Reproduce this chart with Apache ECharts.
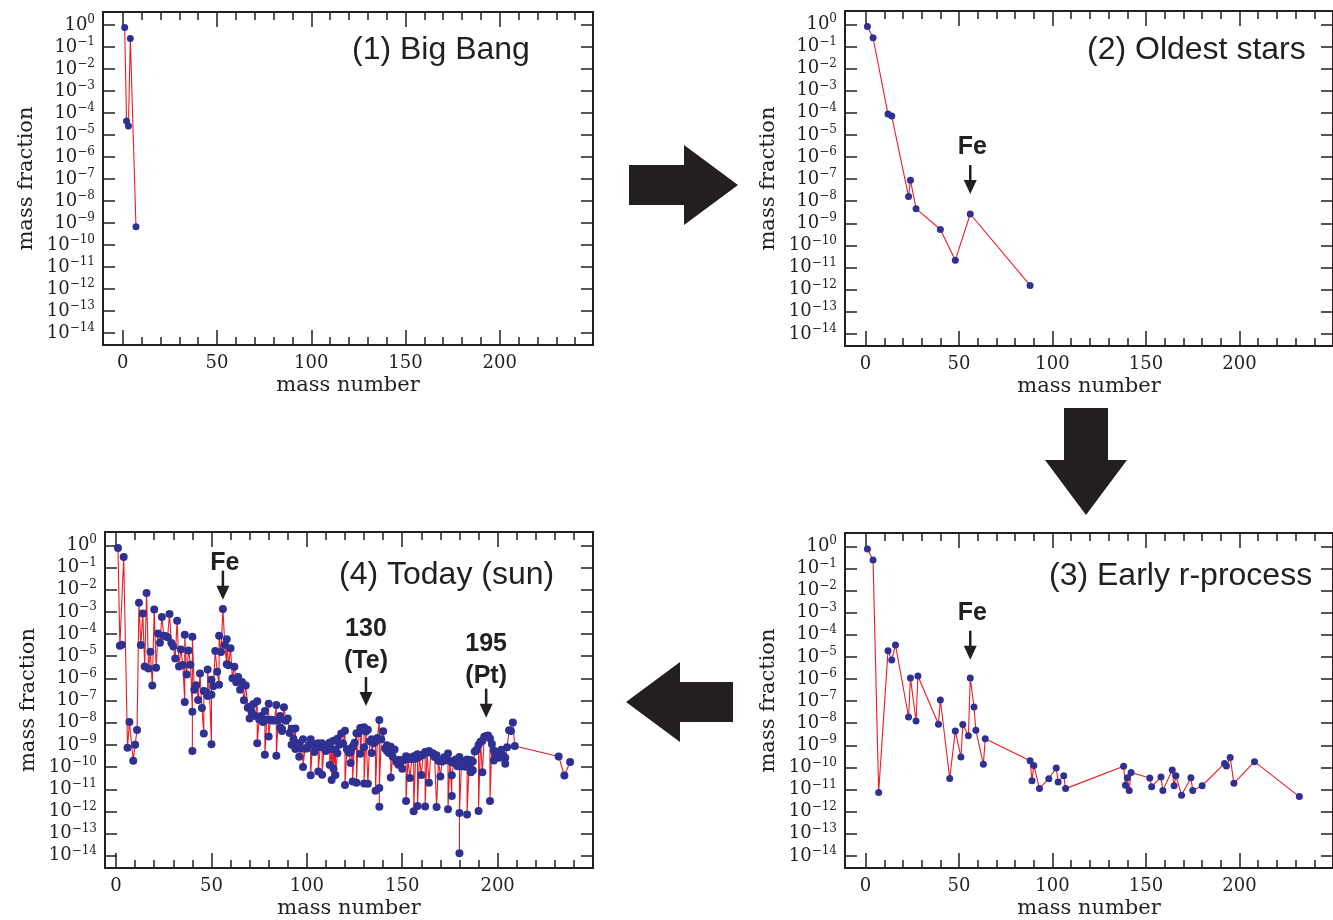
<!DOCTYPE html>
<html>
<head>
<meta charset="utf-8">
<script src="https://cdn.jsdelivr.net/npm/echarts@6/dist/echarts.min.js"></script>
<style>
  html, body { margin: 0; background: #fff; }
  #chart { width: 1333px; height: 920px; }
</style>
</head>
<body>
<div id="chart"></div>
<script>
// [mass number, log10(mass fraction)]
const bigBang = [[1, -0.11], [2, -4.36], [3, -4.59], [4, -0.61], [7, -9.17]];

const oldestStars = [
  [1, -0.10], [4, -0.61], [12, -4.06], [14, -4.15], [23, -7.79], [24, -7.05],
  [27, -8.34], [40, -9.28], [48, -10.67], [56, -8.58], [88, -11.81]
];

const earlyRProcess = [
  [1, -0.12], [4, -0.62], [7, -11.13], [12, -4.73], [14, -5.14], [16, -4.46],
  [23, -7.72], [24, -5.96], [27, -7.90], [28, -5.87], [39, -8.05], [40, -6.95],
  [45, -10.50], [48, -8.35], [51, -9.53], [52, -8.06], [55, -8.57], [56, -5.96],
  [58, -7.27], [59, -8.32], [63, -9.86], [64, -8.71], [88, -9.70], [89, -10.60],
  [90, -9.92], [93, -10.95], [98, -10.51], [102, -10.03], [103, -10.66], [106, -10.38],
  [107, -10.96], [138, -9.95], [139, -10.81], [140, -10.47], [141, -11.05], [142, -10.23],
  [152, -10.48], [153, -10.87], [158, -10.44], [159, -11.05], [164, -10.12], [165, -10.83],
  [166, -10.38], [169, -11.26], [174, -10.47], [175, -11.04], [180, -10.83], [192, -9.82],
  [193, -9.94], [195, -9.55], [197, -10.72], [208, -9.74], [232, -11.32]
];

const todaySun = [
  [1, -0.12], [2, -4.53], [3, -4.48], [4, -0.53], [6, -9.13], [7, -7.97], [9, -9.71],
  [10, -8.99], [11, -8.33], [12, -2.59], [13, -4.50], [14, -3.07], [15, -5.47],
  [16, -2.15], [17, -5.56], [18, -4.80], [19, -6.32], [20, -2.90], [21, -5.52],
  [22, -3.98], [23, -4.39], [24, -3.23], [25, -4.08], [26, -4.10], [27, -4.15],
  [28, -3.10], [29, -4.40], [30, -4.56], [31, -5.10], [32, -3.40], [33, -5.46],
  [34, -4.70], [35, -5.40], [36, -7.07], [36, -4.03], [37, -5.83], [38, -4.74],
  [39, -5.38], [40, -7.51], [40, -9.28], [40, -4.12], [41, -6.51], [42, -6.31],
  [43, -6.98], [44, -5.78], [45, -7.34], [46, -8.48], [46, -6.57], [47, -6.60],
  [48, -6.79], [48, -5.60], [49, -6.73], [50, -6.74], [50, -8.97], [50, -6.06],
  [51, -6.36], [52, -4.76], [53, -5.70], [54, -6.29], [54, -4.08], [55, -4.81],
  [56, -2.87], [57, -4.49], [58, -5.36], [58, -4.24], [59, -5.41], [60, -4.64],
  [61, -5.99], [62, -5.48], [63, -6.17], [64, -6.06], [64, -5.94], [65, -6.51],
  [66, -6.16], [67, -6.99], [68, -6.32], [69, -7.33], [70, -7.81], [70, -7.28],
  [71, -7.50], [72, -7.15], [73, -7.70], [74, -7.03], [74, -8.92], [75, -7.84],
  [76, -7.70], [76, -7.88], [77, -7.97], [78, -7.47], [78, -9.44], [79, -7.86],
  [80, -7.14], [80, -8.62], [81, -7.86], [82, -7.88], [82, -7.90], [83, -7.90],
  [84, -7.20], [84, -9.49], [85, -7.90], [86, -7.70], [86, -8.23], [87, -8.28],
  [87, -8.37], [88, -7.30], [89, -7.91], [90, -7.81], [91, -8.46], [92, -8.27],
  [92, -8.99], [93, -8.72], [94, -8.26], [94, -9.18], [95, -8.94], [96, -9.04],
  [96, -8.92], [96, -9.53], [97, -9.16], [98, -8.75], [98, -10.00], [99, -9.16],
  [100, -9.14], [100, -9.16], [101, -9.02], [102, -8.75], [102, -10.37], [103, -8.98],
  [104, -8.97], [104, -9.32], [105, -9.02], [106, -8.92], [106, -10.20], [107, -9.10],
  [108, -8.93], [108, -10.34], [109, -9.12], [110, -9.28], [110, -9.19], [111, -9.17],
  [112, -8.89], [112, -9.91], [113, -9.18], [113, -10.58], [114, -8.81], [114, -10.07],
  [115, -9.22], [115, -10.36], [116, -9.38], [116, -8.72], [117, -8.99], [118, -8.49],
  [119, -8.94], [120, -8.36], [120, -10.81], [121, -9.20], [122, -9.20], [122, -9.35],
  [123, -9.32], [123, -9.81], [124, -9.09], [124, -9.08], [124, -10.65], [125, -8.90],
  [126, -8.47], [126, -10.71], [127, -8.47], [128, -8.24], [128, -9.40], [129, -8.31],
  [130, -8.20], [130, -9.10], [130, -10.74], [131, -8.40], [132, -8.32], [132, -10.75],
  [133, -8.84], [134, -8.74], [134, -9.37], [135, -8.93], [136, -8.83], [136, -8.85],
  [136, -11.07], [137, -8.69], [138, -7.88], [138, -11.79], [138, -10.94], [139, -8.74],
  [140, -8.38], [141, -9.16], [142, -9.28], [142, -9.02], [143, -9.37], [144, -9.08],
  [144, -10.47], [145, -9.53], [146, -9.21], [147, -9.77], [148, -9.68], [148, -9.90],
  [149, -9.80], [150, -9.68], [150, -10.07], [151, -9.68], [152, -9.51], [152, -11.53],
  [153, -9.64], [154, -9.57], [154, -10.49], [155, -9.65], [156, -9.51], [156, -11.99],
  [157, -9.62], [158, -9.42], [158, -11.76], [159, -9.55], [160, -9.47], [160, -10.36],
  [161, -9.45], [162, -9.32], [162, -11.78], [163, -9.33], [164, -9.27], [164, -10.71],
  [165, -9.36], [166, -9.38], [167, -9.55], [168, -9.47], [168, -11.80], [169, -9.72],
  [170, -9.73], [170, -10.42], [171, -9.75], [172, -9.56], [173, -9.69], [174, -9.39],
  [174, -11.90], [175, -9.73], [176, -9.78], [176, -11.30], [176, -10.37], [177, -9.82],
  [178, -9.66], [179, -9.96], [180, -9.54], [180, -13.88], [180, -12.07], [181, -9.96],
  [182, -9.72], [183, -9.99], [184, -9.66], [184, -12.14], [185, -9.98], [186, -9.68],
  [186, -10.23], [187, -9.75], [187, -10.14], [188, -9.30], [189, -9.22], [190, -9.00],
  [190, -11.98], [191, -8.86], [192, -8.81], [192, -10.23], [193, -8.63], [194, -8.60],
  [195, -8.58], [196, -8.71], [196, -11.53], [197, -8.96], [198, -9.25], [198, -9.70],
  [199, -9.47], [200, -9.33], [201, -9.58], [202, -9.22], [203, -9.49], [204, -9.85],
  [204, -9.58], [205, -9.11], [206, -8.34], [207, -8.37], [208, -7.99], [209, -9.05],
  [232, -9.52], [235, -10.38], [238, -9.77]
];

const majorTicks = [0, 50, 100, 150, 200];
const minorTicks = [10, 20, 30, 40, 60, 70, 80, 90, 110, 120, 130, 140, 160, 170, 180, 190, 210, 220, 230, 240];
const decades = [0, -1, -2, -3, -4, -5, -6, -7, -8, -9, -10, -11, -12, -13, -14];

const INK = '#231f20';
const SERIF = '"DejaVu Serif", serif';
const SANS = '"Liberation Sans", Arial, sans-serif';
const Y_MIN = -14.55, Y_MAX = 0.6;

const panels = [
  { data: bigBang, left: 103, top: 12, width: 490, height: 333, xMin: -10.5, xMax: 249.5, size: 7,
    title: '(1) Big Bang', tx: 352, ty: 50 },
  { data: oldestStars, left: 845, top: 11, width: 492, height: 335, xMin: -11, xMax: 250, size: 7,
    title: '(2) Oldest stars', tx: 1087, ty: 50 },
  { data: earlyRProcess, left: 845, top: 533, width: 492, height: 338, xMin: -11, xMax: 250, size: 7,
    title: '(3) Early r-process', tx: 1049, ty: 576 },
  { data: todaySun, left: 105, top: 532, width: 488, height: 336, xMin: -5.8, xMax: 250, size: 8,
    title: '(4) Today (sun)', tx: 339, ty: 575 }
];

// arrow tip in data coords, text centre is "rise" px above the tip
const annotations = [
  { panel: 1, mass: 56, tipLog: -7.68, text: 'Fe', rise: 47, dx: 2 },
  { panel: 2, mass: 56, tipLog: -5.13, text: 'Fe', rise: 47, dx: 2 },
  { panel: 3, mass: 56, tipLog: -2.45, text: 'Fe', rise: 37, dx: 2 },
  { panel: 3, mass: 131, tipLog: -7.25, text: '130\n(Te)', rise: 61, dx: 0 },
  { panel: 3, mass: 194, tipLog: -7.77, text: '195\n(Pt)', rise: 58, dx: 0 }
];

function supLabel(v) {
  return '{b|10}{s|' + (v === 0 ? '0' : '\u2212' + (-v)) + '}';
}

const grids = [], xAxes = [], yAxes = [], series = [];

panels.forEach(function (p, g) {
  grids.push({ left: p.left, top: p.top, width: p.width, height: p.height });

  const xBase = {
    type: 'value', gridIndex: g, min: p.xMin, max: p.xMax,
    splitLine: { show: false },
    axisLine: { onZero: false, lineStyle: { color: INK, width: 2 } }
  };
  const major = { inside: true, length: 15, customValues: majorTicks, lineStyle: { color: INK, width: 1.5 } };
  const minor = { inside: true, length: 8, customValues: minorTicks, lineStyle: { color: INK, width: 1.5 } };
  xAxes.push(Object.assign({}, xBase, {
    position: 'bottom', axisTick: major,
    axisLabel: { customValues: majorTicks, margin: 9, fontFamily: SERIF, fontSize: 18, color: INK },
    name: 'mass number', nameLocation: 'middle', nameGap: 30,
    nameTextStyle: { fontFamily: SERIF, fontSize: 21, color: INK }
  }));
  xAxes.push(Object.assign({}, xBase, {
    position: 'bottom', axisLine: { show: false, onZero: false }, axisTick: minor, axisLabel: { show: false }
  }));
  xAxes.push(Object.assign({}, xBase, { position: 'top', axisTick: major, axisLabel: { show: false } }));
  xAxes.push(Object.assign({}, xBase, {
    position: 'top', axisLine: { show: false, onZero: false }, axisTick: minor, axisLabel: { show: false }
  }));

  const yBase = {
    type: 'value', gridIndex: g, min: Y_MIN, max: Y_MAX,
    splitLine: { show: false },
    axisLine: { onZero: false, lineStyle: { color: INK, width: 2 } },
    axisTick: { inside: true, length: 12, customValues: decades, lineStyle: { color: INK, width: 1.5 } }
  };
  yAxes.push(Object.assign({}, yBase, {
    position: 'left',
    axisLabel: {
      customValues: decades, margin: 8, formatter: supLabel,
      rich: {
        b: { fontFamily: SERIF, fontSize: 18, color: INK, lineHeight: 22 },
        s: { fontFamily: SERIF, fontSize: 12, color: INK, lineHeight: 14, verticalAlign: 'top' }
      }
    },
    name: 'mass fraction', nameLocation: 'middle', nameGap: 66, nameRotate: 90,
    nameTextStyle: { fontFamily: SERIF, fontSize: 21, color: INK }
  }));
  yAxes.push(Object.assign({}, yBase, { position: 'right', axisLabel: { show: false } }));

  series.push({
    type: 'line', xAxisIndex: 4 * g, yAxisIndex: 2 * g,
    data: p.data, symbol: 'circle', symbolSize: p.size,
    itemStyle: { color: '#2e3192' },
    lineStyle: { color: '#ed1c24', width: 1.1 },
    emphasis: { disabled: true }
  });
});

const chart = echarts.init(document.getElementById('chart'));
chart.setOption({
  animation: false,
  backgroundColor: '#fff',
  grid: grids,
  xAxis: xAxes,
  yAxis: yAxes,
  series: series
});

const graphics = [
  // block arrows between the panels
  { type: 'polygon', shape: { points: [[629, 165], [684, 165], [684, 145], [738, 185], [684, 225], [684, 205], [629, 205]] },
    style: { fill: INK } },
  { type: 'polygon', shape: { points: [[1064, 408], [1108, 408], [1108, 460], [1127, 460], [1086, 515], [1045, 460], [1064, 460]] },
    style: { fill: INK } },
  { type: 'polygon', shape: { points: [[733, 682], [680, 682], [680, 662], [626, 702], [680, 742], [680, 722], [733, 722]] },
    style: { fill: INK } }
];

panels.forEach(function (p) {
  graphics.push({ type: 'text', style: { text: p.title, x: p.tx, y: p.ty, verticalAlign: 'middle',
    font: '32px ' + SANS, fill: INK } });
});

annotations.forEach(function (a) {
  const pt = chart.convertToPixel({ xAxisIndex: 4 * a.panel, yAxisIndex: 2 * a.panel }, [a.mass, a.tipLog]);
  const x = pt[0], y = pt[1];
  graphics.push({ type: 'line', shape: { x1: x, y1: y - 29, x2: x, y2: y - 12 },
    style: { stroke: INK, lineWidth: 2.5 } });
  graphics.push({ type: 'polygon', shape: { points: [[x - 6.5, y - 14], [x + 6.5, y - 14], [x, y]] },
    style: { fill: INK } });
  graphics.push({ type: 'text', style: { text: a.text, x: x + a.dx, y: y - a.rise, align: 'center',
    verticalAlign: 'middle', font: 'bold 25px ' + SANS, lineHeight: 32, fill: INK } });
});

chart.setOption({ graphic: graphics });
</script>
</body>
</html>
